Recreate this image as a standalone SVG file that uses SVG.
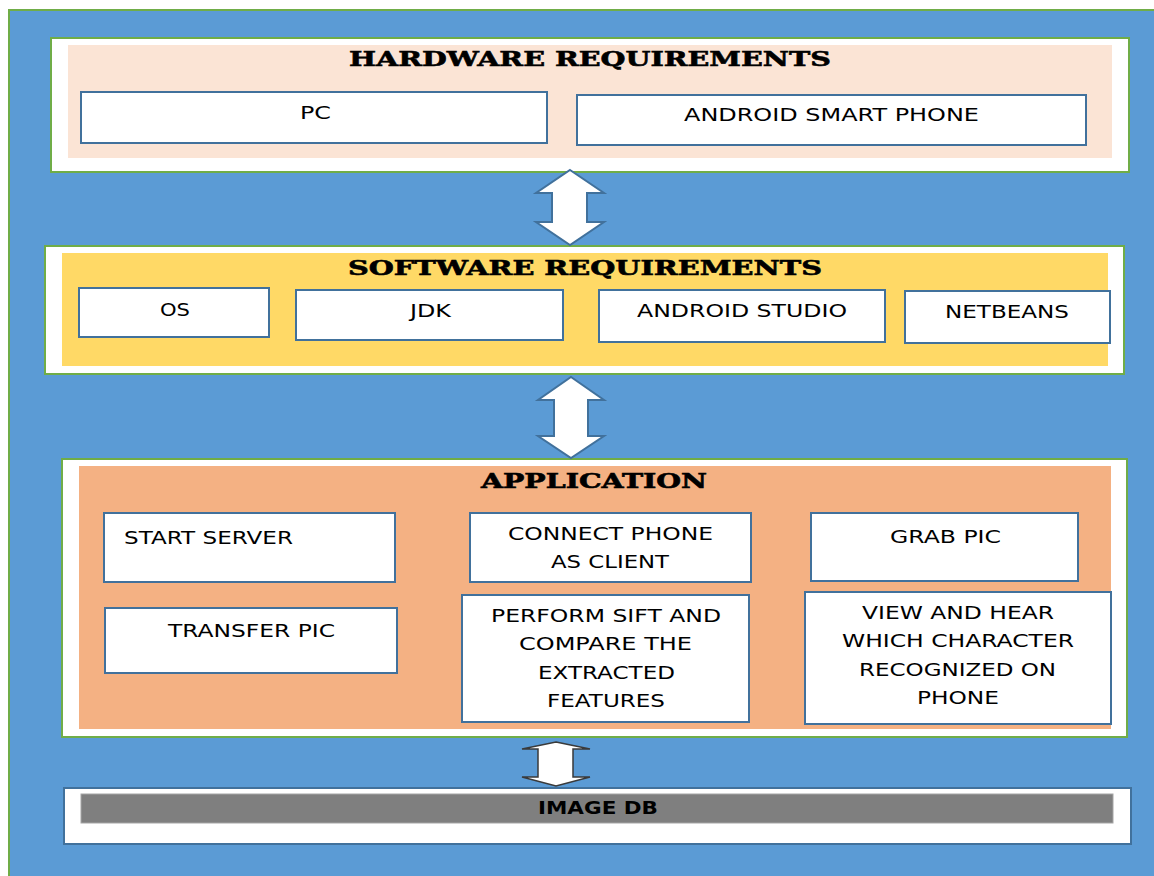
<svg xmlns="http://www.w3.org/2000/svg" width="1154" height="876" viewBox="0 0 1154 876">
  <style>
    .layer { fill: #FFFFFF; stroke: #70AD47; stroke-width: 2; }
    .item { fill: #FFFFFF; stroke: #41719C; stroke-width: 2; }
    .title { font-family: "DejaVu Serif", "Liberation Serif", serif; font-weight: bold; fill: #000000; stroke: #000000; stroke-width: 0.6; text-anchor: middle; }
    .label { font-family: "DejaVu Sans", "Open Sans", "Liberation Sans", sans-serif; font-size: 18px; fill: #000000; text-anchor: middle; }
    .arrow { fill: #FFFFFF; stroke: #41719C; stroke-width: 2; stroke-linejoin: miter; }
    .arrow-dark { fill: #FFFFFF; stroke: #3A3A3A; stroke-width: 1.5; }
  </style>

  <!-- page background -->
  <rect x="0" y="0" width="1154" height="876" fill="#FFFFFF"/>
  <rect x="9" y="10" width="1160" height="880" fill="#5B9BD5" stroke="#70AD47" stroke-width="2"/>

  <!-- hardware layer -->
  <g id="hardware">
    <rect class="layer" x="51" y="38" width="1078" height="134"/>
    <rect x="68" y="45" width="1044" height="113" fill="#FBE4D5"/>
    <text class="title" x="590" y="66" font-size="21" textLength="482" lengthAdjust="spacingAndGlyphs">HARDWARE REQUIREMENTS</text>
  </g>
  <g id="hw-pc">
    <rect class="item" x="81" y="92" width="466" height="51"/>
    <text class="label" x="315.5" y="119" textLength="31" lengthAdjust="spacingAndGlyphs">PC</text>
  </g>
  <g id="hw-phone">
    <rect class="item" x="577" y="95" width="509" height="50"/>
    <text class="label" x="831.5" y="121" textLength="295" lengthAdjust="spacingAndGlyphs">ANDROID SMART PHONE</text>
  </g>

  <!-- software layer -->
  <g id="software">
    <rect class="layer" x="45" y="246" width="1079" height="128"/>
    <rect x="62" y="253" width="1046" height="113" fill="#FFD966"/>
    <text class="title" x="585" y="275" font-size="20" textLength="474" lengthAdjust="spacingAndGlyphs">SOFTWARE REQUIREMENTS</text>
  </g>
  <g id="sw-os">
    <rect class="item" x="79" y="288" width="190" height="49"/>
    <text class="label" x="175" y="316" textLength="30" lengthAdjust="spacingAndGlyphs">OS</text>
  </g>
  <g id="sw-jdk">
    <rect class="item" x="296" y="290" width="267" height="50"/>
    <text class="label" x="430.5" y="317" textLength="41" lengthAdjust="spacingAndGlyphs">JDK</text>
  </g>
  <g id="sw-studio">
    <rect class="item" x="599" y="290" width="286" height="52"/>
    <text class="label" x="742" y="317" textLength="210" lengthAdjust="spacingAndGlyphs">ANDROID STUDIO</text>
  </g>
  <g id="sw-netbeans">
    <rect class="item" x="905" y="291" width="205" height="52"/>
    <text class="label" x="1007" y="318" textLength="124" lengthAdjust="spacingAndGlyphs">NETBEANS</text>
  </g>

  <!-- application layer -->
  <g id="application">
    <rect class="layer" x="62" y="459" width="1065" height="278"/>
    <rect x="79" y="466" width="1032" height="263" fill="#F4B183"/>
    <text class="title" x="594" y="488" font-size="20" textLength="226" lengthAdjust="spacingAndGlyphs">APPLICATION</text>
  </g>
  <g id="app-start">
    <rect class="item" x="104" y="513" width="291" height="69"/>
    <text class="label" x="208.5" y="544" textLength="169" lengthAdjust="spacingAndGlyphs">START SERVER</text>
  </g>
  <g id="app-transfer">
    <rect class="item" x="105" y="608" width="292" height="65"/>
    <text class="label" x="251.5" y="637" textLength="167" lengthAdjust="spacingAndGlyphs">TRANSFER PIC</text>
  </g>
  <g id="app-connect">
    <rect class="item" x="470" y="513" width="281" height="69"/>
    <text class="label" x="610.5" y="540" textLength="205" lengthAdjust="spacingAndGlyphs">CONNECT PHONE</text>
    <text class="label" x="610" y="568" textLength="118" lengthAdjust="spacingAndGlyphs">AS CLIENT</text>
  </g>
  <g id="app-sift">
    <rect class="item" x="462" y="595" width="287" height="127"/>
    <text class="label" x="606" y="622" textLength="230" lengthAdjust="spacingAndGlyphs">PERFORM SIFT AND</text>
    <text class="label" x="605.5" y="650" textLength="173" lengthAdjust="spacingAndGlyphs">COMPARE THE</text>
    <text class="label" x="606.5" y="679" textLength="137" lengthAdjust="spacingAndGlyphs">EXTRACTED</text>
    <text class="label" x="606" y="707" textLength="118" lengthAdjust="spacingAndGlyphs">FEATURES</text>
  </g>
  <g id="app-grab">
    <rect class="item" x="811" y="513" width="267" height="68"/>
    <text class="label" x="945.5" y="543" textLength="111" lengthAdjust="spacingAndGlyphs">GRAB PIC</text>
  </g>
  <g id="app-view">
    <rect class="item" x="805" y="592" width="306" height="132"/>
    <text class="label" x="958" y="619" textLength="192" lengthAdjust="spacingAndGlyphs">VIEW AND HEAR</text>
    <text class="label" x="958" y="647" textLength="232" lengthAdjust="spacingAndGlyphs">WHICH CHARACTER</text>
    <text class="label" x="957.5" y="676" textLength="197" lengthAdjust="spacingAndGlyphs">RECOGNIZED ON</text>
    <text class="label" x="958" y="704" textLength="82" lengthAdjust="spacingAndGlyphs">PHONE</text>
  </g>

  <!-- image database -->
  <g id="image-db">
    <rect x="64" y="788" width="1067" height="56" fill="#FFFFFF" stroke="#41719C" stroke-width="2"/>
    <rect x="81" y="794" width="1032" height="29" fill="#7F7F7F" stroke="#A6A6A6" stroke-width="1"/>
    <text x="598" y="814" font-family="'DejaVu Sans', 'Open Sans', 'Liberation Sans', sans-serif" font-weight="bold" font-size="18" text-anchor="middle" fill="#000000" textLength="120" lengthAdjust="spacingAndGlyphs">IMAGE DB</text>
  </g>

  <!-- double-headed connectors between layers -->
  <g id="connectors">
    <path class="arrow" d="M570,170 L604,193 L587,193 L587,222 L604,222 L570,245 L536,222 L552,222 L552,193 L536,193 Z"/>
    <path class="arrow" d="M571,377 L604,400 L588,400 L588,436 L604,436 L571,458 L538,436 L554,436 L554,400 L538,400 Z"/>
    <path class="arrow-dark" d="M556,742 L590,749 L573,749 L573,777 L590,777 L556,786 L522,777 L538,777 L538,749 L522,749 Z"/>
  </g>
</svg>
